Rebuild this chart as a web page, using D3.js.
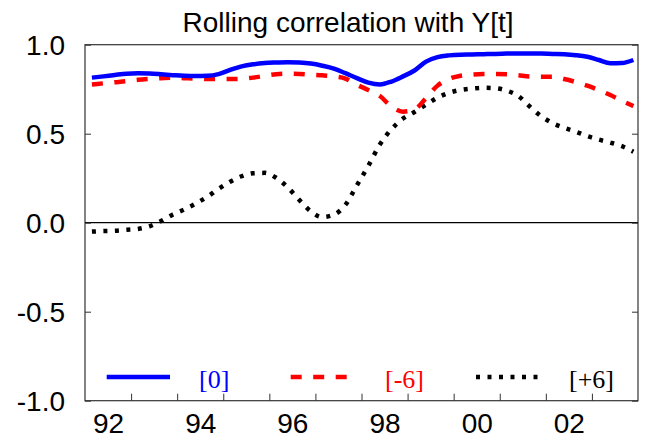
<!DOCTYPE html>
<html>
<head>
<meta charset="utf-8">
<script src="https://cdn.jsdelivr.net/npm/d3@7"></script>
<style>
  html, body { margin: 0; padding: 0; background: #fff; }
  svg { display: block; }
</style>
</head>
<body>
<svg id="chart" width="652" height="439"></svg>
<script>
// ---- Data (decimal years) ----
const dates = d3.range(48).map(k => 1992.15 + 0.25 * k);

const lag0 = [0.815,0.822,0.830,0.837,0.839,0.838,0.834,0.829,0.825,0.824,
              0.825,0.835,0.858,0.878,0.890,0.897,0.900,0.902,0.900,0.894,
              0.882,0.866,0.840,0.812,0.787,0.777,0.793,0.822,0.855,0.905,
              0.930,0.940,0.944,0.945,0.947,0.948,0.950,0.951,0.951,0.950,
              0.948,0.946,0.941,0.932,0.914,0.896,0.897,0.914];

const lagMinus6 = [0.777,0.783,0.789,0.795,0.803,0.808,0.812,0.815,0.812,0.809,
                   0.807,0.807,0.807,0.809,0.815,0.825,0.834,0.837,0.836,0.832,
                   0.828,0.822,0.810,0.775,0.745,0.712,0.652,0.624,0.636,0.700,
                   0.770,0.808,0.826,0.832,0.835,0.835,0.834,0.828,0.821,0.820,
                   0.820,0.807,0.790,0.770,0.745,0.717,0.685,0.655];

const lagPlus6 = [-0.050,-0.047,-0.045,-0.040,-0.035,-0.020,0.009,0.045,0.074,0.107,
                  0.145,0.190,0.230,0.261,0.278,0.280,0.252,0.198,0.128,0.064,
                  0.032,0.045,0.100,0.210,0.320,0.440,0.525,0.585,0.622,0.663,
                  0.703,0.730,0.746,0.754,0.758,0.756,0.742,0.712,0.653,0.598,
                  0.559,0.533,0.511,0.487,0.467,0.450,0.430,0.399];

const seriesNames = ["[0]", "[-6]", "[+6]"];
const seriesColors = ["#0000ff", "#ff0000", "#000000"];
const seriesDash = [null, "11,11.5", "4,7.5"];

const yTicks = [-1.0, -0.5, 0.0, 0.5, 1.0];
const xTickYears = d3.range(1993, 2004);
const xLabelYears = [1992, 1994, 1996, 1998, 2000, 2002];
const xLabels = ["92", "94", "96", "98", "00", "02"];
const title = "Rolling correlation with Y[t]";

// ---- Layout ----
const W = 652, H = 439;
const m = { left: 85, right: 14, top: 44.7, bottom: 38.3 };
const svg = d3.select("#chart");

const x = d3.scaleLinear().domain([1992, 2004]).range([m.left, W - m.right]);
const y = d3.scaleLinear().domain([-1, 1]).range([H - m.bottom, m.top]);

const sans = "'Liberation Sans', Arial, Helvetica, sans-serif";
const serif = "'Liberation Serif', 'Times New Roman', serif";

// frame
svg.append("rect")
  .attr("x", x(1992)).attr("y", y(1))
  .attr("width", x(2004) - x(1992)).attr("height", y(-1) - y(1))
  .attr("fill", "none").attr("stroke", "#333").attr("stroke-width", 1.2);

// zero line
svg.append("line")
  .attr("x1", x(1992)).attr("x2", x(2004))
  .attr("y1", y(0)).attr("y2", y(0))
  .attr("stroke", "#000").attr("stroke-width", 1.2);

// left axis
const fmt = d => d.toFixed(1);
const gl = svg.append("g").attr("transform", `translate(${x(1992)},0)`)
  .call(d3.axisLeft(y).tickValues(yTicks).tickFormat(fmt).tickSizeInner(-6).tickSizeOuter(0).tickPadding(20));
gl.select(".domain").remove();
gl.selectAll("line").attr("stroke", "#333");
gl.selectAll("text").attr("font-family", sans).attr("font-size", 28).attr("fill", "#000").attr("dy", "0.34em");

// right axis
const gr = svg.append("g").attr("transform", `translate(${x(2004)},0)`)
  .call(d3.axisRight(y).tickValues(yTicks).tickFormat("").tickSizeInner(-6).tickSizeOuter(0));
gr.select(".domain").remove();
gr.selectAll("line").attr("stroke", "#333");

// bottom ticks (year boundaries)
const gb = svg.append("g").attr("transform", `translate(0,${y(-1)})`)
  .call(d3.axisBottom(x).tickValues(xTickYears).tickFormat("").tickSizeInner(-7).tickSizeOuter(0));
gb.select(".domain").remove();
gb.selectAll("line").attr("stroke", "#333");

// bottom labels (centred on the year)
const gbl = svg.append("g").attr("transform", `translate(0,${y(-1)})`)
  .call(d3.axisBottom(x).tickValues(xLabelYears.map(v => v + 0.5))
        .tickFormat((d, i) => xLabels[i]).tickSize(0).tickPadding(12));
gbl.select(".domain").remove();
gbl.selectAll("text").attr("font-family", sans).attr("font-size", 28).attr("fill", "#000");

// title
svg.append("text")
  .attr("x", 348).attr("y", 31.5)
  .attr("text-anchor", "middle")
  .attr("font-family", sans).attr("font-size", 28)
  .text(title);

// lines
const allSeries = [lag0, lagMinus6, lagPlus6];
const line = d3.line().x((d, i) => x(dates[i])).y(d => y(d)).curve(d3.curveMonotoneX);
const clipId = "plotclip";
svg.append("clipPath").attr("id", clipId).append("rect")
  .attr("x", x(1992)).attr("y", y(1)).attr("width", x(2004) - x(1992)).attr("height", y(-1) - y(1));

// draw black first, then red, then blue on top
[2, 1, 0].forEach(s => {
  svg.append("path")
    .datum(allSeries[s])
    .attr("clip-path", `url(#${clipId})`)
    .attr("d", line)
    .attr("fill", "none")
    .attr("stroke", seriesColors[s])
    .attr("stroke-width", 4.5)
    .attr("stroke-linecap", "butt")
    .attr("stroke-linejoin", "round")
    .attr("stroke-dasharray", seriesDash[s]);
});

// legend
const legendY = 377;
const legendItems = [
  { lx1: 106.7, lx2: 170, tx: 199, size: 26 },
  { lx1: 290.7, lx2: 349, tx: 385, size: 26 },
  { lx1: 476, lx2: 538, tx: 569, size: 26 }
];
legendItems.forEach((it, s) => {
  svg.append("line")
    .attr("x1", it.lx1).attr("x2", it.lx2)
    .attr("y1", legendY).attr("y2", legendY)
    .attr("stroke", seriesColors[s]).attr("stroke-width", 4.5)
    .attr("stroke-linecap", "butt")
    .attr("stroke-dasharray", seriesDash[s]);
  svg.append("text")
    .attr("x", it.tx).attr("y", 388)
    .attr("font-family", serif).attr("font-size", it.size)
    .attr("fill", seriesColors[s])
    .text(seriesNames[s]);
});
</script>
</body>
</html>
